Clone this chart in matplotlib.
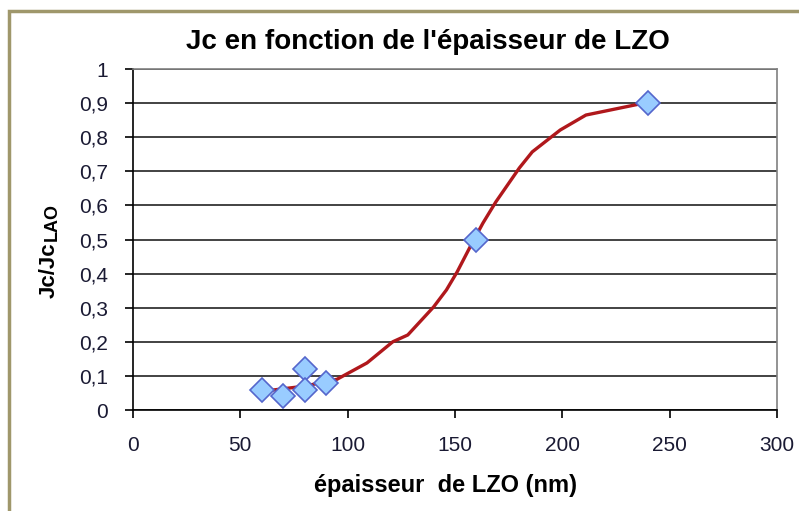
import numpy as np
import matplotlib
matplotlib.use("Agg")
import matplotlib.pyplot as plt
from matplotlib.ticker import FuncFormatter
from matplotlib.patches import Rectangle

# Mesures
epaisseur = [60, 70, 80, 80, 90, 160, 240]
jc_ratio = [0.06, 0.04, 0.12, 0.06, 0.08, 0.50, 0.90]

# Courbe de tendance
courbe_x = [58, 80, 95, 109, 121, 128, 140, 146, 151, 158, 163, 169, 180, 186, 199, 211, 238]
courbe_y = [0.053, 0.07, 0.09, 0.138, 0.20, 0.22, 0.302, 0.352, 0.405, 0.49, 0.548, 0.61, 0.71, 0.757, 0.821, 0.865, 0.90]

plt.rcParams["font.family"] = ["Liberation Sans", "DejaVu Sans"]

W, H = 799, 511
fig = plt.figure(figsize=(W/100, H/100), dpi=100)
ax = fig.add_axes([133/W, 1-410/H, (777-133)/W, (410-69)/H])

# cadre exterieur
fig.patches.append(Rectangle((8.5/W, -0.1), 1.2, 1-11.5/H+0.1, transform=fig.transFigure,
                             fill=False, edgecolor="#9F976B", linewidth=2.5))

ax.set_xlim(0, 300)
ax.set_ylim(0, 1)
ax.set_xticks(np.arange(0, 301, 50))
ax.set_yticks(np.arange(0, 1.01, 0.1))
ax.yaxis.set_major_formatter(FuncFormatter(lambda v, p: "0" if v == 0 else ("1" if abs(v-1) < 1e-9 else f"{v:.1f}".replace(".", ","))))
ax.grid(axis="y", color="#222222", linewidth=1.2)
ax.set_axisbelow(True)

for s in ["top", "right"]:
    ax.spines[s].set_color("#808080")
    ax.spines[s].set_linewidth(1.2)
for s in ["left", "bottom"]:
    ax.spines[s].set_color("black")
    ax.spines[s].set_linewidth(1.2)

ax.tick_params(axis="both", direction="out", length=6, width=1.2, labelsize=15, colors="black")
ax.tick_params(axis="x", pad=13)
ax.tick_params(axis="y", pad=12)
for lab in ax.get_xticklabels() + ax.get_yticklabels():
    lab.set_color("#1a1a33")

ax.plot(courbe_x, courbe_y, color="#B0181C", linewidth=2.4, zorder=3)
ax.plot(epaisseur, jc_ratio, linestyle="none", marker="D", markersize=12,
        markerfacecolor="#99CCFF", markeredgecolor="#5566CC", markeredgewidth=1.2, zorder=4)

fig.text(428/W, 1-42/H, "Jc en fonction de l'épaisseur de LZO", ha="center", va="center",
         fontsize=20, fontweight="bold")
fig.text(446/W, 1-485/H, "épaisseur  de LZO (nm)", ha="center", va="center",
         fontsize=17, fontweight="bold")

# titre axe y : Jc/Jc + indice LAO
t1 = fig.text(55/W, 1-298/H, "Jc/Jc", rotation=90, rotation_mode="anchor",
              ha="left", va="baseline", fontsize=16, fontweight="bold")
fig.canvas.draw()
bb = t1.get_window_extent(fig.canvas.get_renderer())
fig.text(57/W, (bb.y1 + 1)/H, "LAO", rotation=90, rotation_mode="anchor",
         ha="left", va="baseline", fontsize=13, fontweight="bold")

fig.savefig("out.png", dpi=100)
